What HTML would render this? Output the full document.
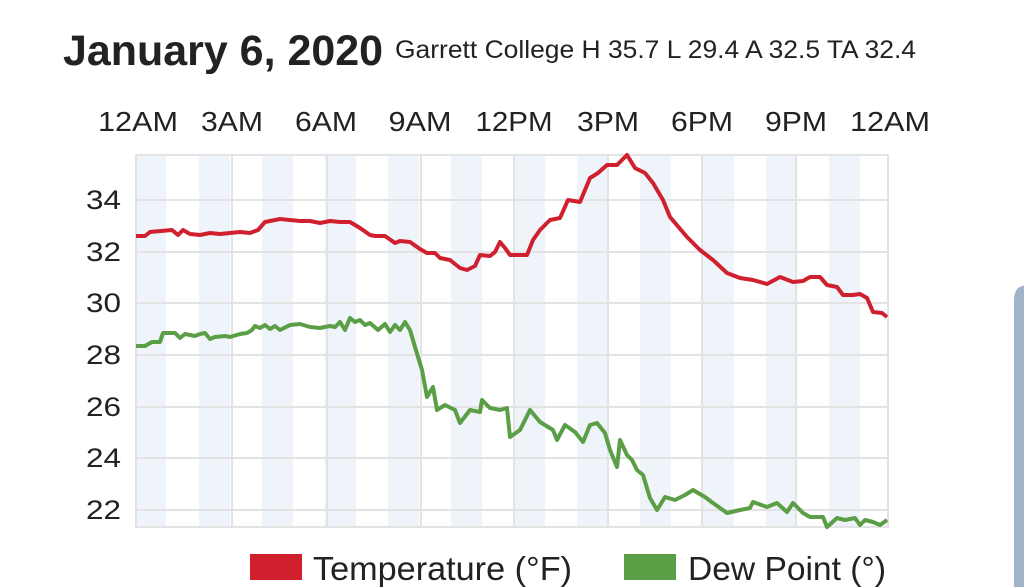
<!DOCTYPE html>
<html><head><meta charset="utf-8"><style>
body{margin:0;width:1024px;height:587px;background:#fff;overflow:hidden;font-family:"Liberation Sans",sans-serif;color:#222}
</style></head><body>
<svg width="1024" height="587" viewBox="0 0 1024 587" xmlns="http://www.w3.org/2000/svg" style="position:absolute;left:0;top:0">
<text x="63" y="65" font-size="43" font-weight="bold" fill="#222" textLength="320" lengthAdjust="spacingAndGlyphs">January 6, 2020</text>
<text x="395" y="58" font-size="25" fill="#222" textLength="521" lengthAdjust="spacingAndGlyphs">Garrett College H 35.7 L 29.4 A 32.5 TA 32.4</text>
<g font-size="28" fill="#222" text-anchor="middle">
<text x="138" y="131" textLength="80" lengthAdjust="spacingAndGlyphs">12AM</text><text x="232" y="131" textLength="62" lengthAdjust="spacingAndGlyphs">3AM</text><text x="326" y="131" textLength="62" lengthAdjust="spacingAndGlyphs">6AM</text><text x="420" y="131" textLength="63" lengthAdjust="spacingAndGlyphs">9AM</text><text x="514" y="131" textLength="77" lengthAdjust="spacingAndGlyphs">12PM</text><text x="608" y="131" textLength="62" lengthAdjust="spacingAndGlyphs">3PM</text><text x="702" y="131" textLength="62" lengthAdjust="spacingAndGlyphs">6PM</text><text x="796" y="131" textLength="62" lengthAdjust="spacingAndGlyphs">9PM</text><text x="890" y="131" textLength="80" lengthAdjust="spacingAndGlyphs">12AM</text>
</g>
<g fill="#eef4fa">
<rect x="136" y="155" width="30" height="372"/><rect x="199" y="155" width="31" height="372"/><rect x="262" y="155" width="31" height="372"/><rect x="325" y="155" width="31" height="372"/><rect x="388" y="155" width="31" height="372"/><rect x="451" y="155" width="31" height="372"/><rect x="514" y="155" width="31" height="372"/><rect x="577" y="155" width="31" height="372"/><rect x="640" y="155" width="31" height="372"/><rect x="703" y="155" width="31" height="372"/><rect x="766" y="155" width="31" height="372"/><rect x="829" y="155" width="31" height="372"/>
</g>
<g stroke="#e3e3e3" stroke-width="2" fill="none">
<rect x="136" y="155" width="752" height="372"/>
<line x1="136" y1="200" x2="888" y2="200"/><line x1="136" y1="252" x2="888" y2="252"/><line x1="136" y1="303" x2="888" y2="303"/><line x1="136" y1="355" x2="888" y2="355"/><line x1="136" y1="407" x2="888" y2="407"/><line x1="136" y1="458" x2="888" y2="458"/><line x1="136" y1="510" x2="888" y2="510"/>
<line x1="232" y1="155" x2="232" y2="527"/><line x1="327" y1="155" x2="327" y2="527"/><line x1="421" y1="155" x2="421" y2="527"/><line x1="514" y1="155" x2="514" y2="527"/><line x1="608" y1="155" x2="608" y2="527"/><line x1="702" y1="155" x2="702" y2="527"/><line x1="796" y1="155" x2="796" y2="527"/>
</g>
<g font-size="27" fill="#222" text-anchor="end">
<text x="121" y="209" textLength="35" lengthAdjust="spacingAndGlyphs">34</text><text x="121" y="261" textLength="35" lengthAdjust="spacingAndGlyphs">32</text><text x="121" y="312" textLength="35" lengthAdjust="spacingAndGlyphs">30</text><text x="121" y="364" textLength="35" lengthAdjust="spacingAndGlyphs">28</text><text x="121" y="416" textLength="35" lengthAdjust="spacingAndGlyphs">26</text><text x="121" y="467" textLength="35" lengthAdjust="spacingAndGlyphs">24</text><text x="121" y="519" textLength="35" lengthAdjust="spacingAndGlyphs">22</text>
</g>
<polyline fill="none" stroke="#d0202e" stroke-width="4" stroke-linejoin="round" points="136,236 145,236 150,232 172,230 178,235 183,230 190,234 200,235 210,233 220,234 230,233 240,232 250,233 258,230 265,222 280,219 300,221 310,221 320,223 330,221 340,222 350,222 360,228 370,235 375,236 385,236 395,243 400,241 410,242 420,249 427,253 435,253 440,258 450,260 460,268 467,270 475,266 480,255 490,256 495,252 500,242 505,248 510,255 520,255 527,255 533,240 540,230 550,220 560,218 568,200 580,202 590,178 598,173 607,165 617,165 627,155 635,168 645,173 653,183 663,200 670,217 687,237 700,250 713,260 727,273 740,278 753,280 767,284 780,277 793,282 803,281 810,277 820,277 827,285 837,287 843,295 853,295 860,294 867,298 873,312 882,313 887,317"/>
<polyline fill="none" stroke="#5a9e45" stroke-width="4" stroke-linejoin="round" points="136,346 145,346 152,342 160,342 163,333 175,333 180,338 185,334 195,336 200,334 205,333 210,339 215,337 225,336 230,337 240,334 247,333 252,330 255,326 260,328 265,325 270,329 275,326 280,330 290,325 300,324 310,327 320,328 330,326 335,327 340,322 345,330 350,318 355,322 360,320 365,325 370,323 378,330 385,324 390,332 395,325 400,330 405,322 410,330 415,347 422,370 427,397 433,387 437,410 445,405 455,410 460,423 470,410 480,412 482,400 490,408 500,410 507,408 510,437 520,430 530,410 540,422 553,430 557,440 565,425 575,432 583,442 590,425 597,423 605,433 610,450 617,467 620,440 627,455 632,460 637,470 643,475 650,498 657,510 665,497 675,500 685,495 693,490 705,497 713,503 727,513 740,510 750,508 753,502 767,507 777,503 787,512 793,503 803,513 810,517 823,517 827,527 837,518 845,520 855,518 860,525 865,520 873,522 880,525 887,520"/>
<rect x="250" y="554" width="52" height="26" fill="#d0202e"/>
<text x="313" y="580" font-size="33" fill="#222" textLength="259" lengthAdjust="spacingAndGlyphs">Temperature (°F)</text>
<rect x="624" y="554" width="52" height="26" fill="#5a9e45"/>
<text x="688" y="580" font-size="33" fill="#222" textLength="198" lengthAdjust="spacingAndGlyphs">Dew Point (°)</text>
<path d="M1014,300 Q1014,285 1028,285 L1024,285 L1024,587 L1014,587 Z" fill="#9fb4c9"/>
</svg>
</body></html>
